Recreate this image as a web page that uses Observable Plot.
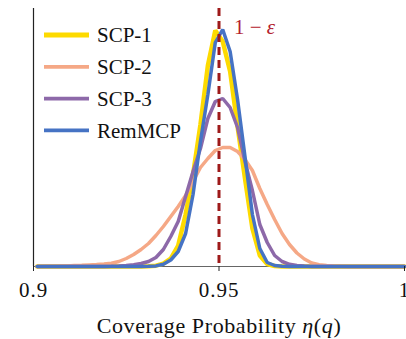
<!DOCTYPE html>
<html><head><meta charset="utf-8">
<script src="https://cdn.jsdelivr.net/npm/d3@7"></script>
<script src="https://cdn.jsdelivr.net/npm/@observablehq/plot@0.6"></script>
<style>
body{margin:0;background:#fff;}
svg text, svg tspan { font-family: "Liberation Serif" !important; }
</style></head><body><div id="chart"></div>
<script>
// Coverage probability grid
const coverage = [0.901,0.903,0.905,0.907,0.909,0.911,0.913,0.915,0.917,0.919,
  0.921,0.923,0.925,0.927,0.929,0.931,0.933,0.935,0.937,0.939,
  0.941,0.943,0.945,0.947,0.949,0.951,0.953,0.955,0.957,0.959,
  0.961,0.963,0.965,0.967,0.969,0.971,0.973,0.975,0.977,0.979,
  0.981,0.983,0.985,0.987,0.989,0.991,0.993,0.995,0.997,0.999,1.000];

const seriesNames = ["SCP-1","SCP-2","SCP-3","RemMCP"];
const seriesColors = ["#FDDA00","#F5A886","#8D69A9","#4673C4"];

// density (arbitrary units)
const scp1 = [0,0,0,0,0,0,0,0,0,0,
  0,0,0,0,0,0.3,0.8,2.8,8,21,
  52,92,142,201,236,225,195,140,88,38,
  11,2.5,0.5,0.1,0,0,0,0,0,0,
  0,0,0,0,0,0,0,0,0,0,0];
const scp2 = [0.1,0.2,0.3,0.4,0.6,0.9,1.2,1.6,2.0,2.6,
  3.3,5,8,12,17,23,31,40,50,60,
  71,85,99,108,116,119,119,115,107,96,
  78,62,47,33,22,13.5,7.5,3.5,1.8,0.9,
  0.4,0.2,0,0,0,0,0,0,0,0,0];
const scp3 = [0,0,0,0,0,0,0,0,0,0,
  0.2,0.5,1,1.8,3,5,9,17,30,45,
  70,95,118,148,165,168,159,139,105,76,
  42,24,11,5,2.2,1,0.4,0.1,0,0,
  0,0,0,0,0,0,0,0,0,0,0];
const remmcp = [0,0,0,0,0,0,0,0,0,0,
  0,0,0,0,0,0.2,0.6,2.3,6.5,15,
  33,72,125,172,224,237,215,167,110,52,
  18,4,1,0.2,0,0,0,0,0,0,
  0,0,0,0,0,0,0,0,0,0,0];

const xTicks = [0.9, 0.95, 1];
const xTickLabels = ["0.9", "0.95", "1"];
const target = 0.95;
const targetLabel = "1 − ε";
const xLabel = "Coverage Probability η(q)";

const allSeries = [scp1, scp2, scp3, remmcp];
const lineWidths = [4.5, 3.5, 3.5, 3.5];
const rows = [];
allSeries.forEach((vals, k) => vals.forEach((v, i) => rows.push({series: seriesNames[k], x: coverage[i], y: v})));

const serif = "Liberation Serif";

const lineMarks = seriesNames.map((name, k) =>
  Plot.line(rows.filter(r => r.series === name), {x: "x", y: "y", stroke: seriesColors[k], strokeWidth: lineWidths[k], strokeLinejoin: "miter"})
);

const plot = Plot.plot({
  width: 406, height: 339,
  marginLeft: 33, marginRight: 2, marginTop: 8, marginBottom: 73,
  style: {background: "#fff", color: "#111"},
  x: {domain: [0.9, 1]},
  y: {domain: [0, 258], axis: null},
  marks: [
    Plot.ruleY([0], {stroke: "#666", strokeWidth: 1.2}),
    ...lineMarks,
    Plot.ruleX([0.9], {stroke: "#222", strokeWidth: 1.2}),
    Plot.ruleX([target], {stroke: "#9E1A1A", strokeWidth: 3, strokeDasharray: "8,5"}),
    Plot.axisX({ticks: xTicks, tickFormat: (d) => xTickLabels[xTicks.indexOf(d)], tickSize: 5, tickPadding: 11, fontSize: 21, label: null, stroke: "#222", fontFamily: serif}),
    Plot.text([targetLabel], {x: [target], frameAnchor: "top", dx: 15, dy: 19, textAnchor: "start", lineAnchor: "middle", fill: "#B3202C", fontSize: 21, fontFamily: serif, text: d => d}),
    Plot.text([xLabel], {frameAnchor: "bottom", dy: 59, lineAnchor: "middle", fontSize: 22, fill: "#111", fontFamily: serif, text: d => d})
  ]
});

document.getElementById("chart").appendChild(plot);

// Italic math symbols
const NS = "http://www.w3.org/2000/svg";
function mathify(t, parts) {
  t.textContent = "";
  parts.forEach(([s, it]) => {
    if (it) { const sp = document.createElementNS(NS, "tspan"); sp.setAttribute("font-style", "italic"); sp.textContent = s; t.appendChild(sp); }
    else t.appendChild(document.createTextNode(s));
  });
}
plot.querySelectorAll("text").forEach(t => {
  if (t.textContent === xLabel) { mathify(t, [["Coverage Probability ", false], ["η", true], ["(", false], ["q", true], [")", false]]); t.setAttribute("letter-spacing", "0.6"); }
  else if (t.textContent === targetLabel) mathify(t, [["1 − ", false], ["ε", true]]);
});
plot.querySelectorAll('g[aria-label="x-axis tick label"] text').forEach(t => t.setAttribute("letter-spacing", "1"));

// Legend inside the plot
const svg = d3.select(plot);
const lg = svg.append("g").attr("font-family", serif).attr("font-size", 21).attr("text-anchor", "start");
seriesNames.forEach((name, i) => {
  const y = 35 + i * 31.8;
  lg.append("line").attr("x1", 44).attr("x2", 89).attr("y1", y).attr("y2", y)
    .attr("stroke", seriesColors[i]).attr("stroke-width", i === 0 ? 5 : 3.8);
  lg.append("text").attr("x", 97).attr("y", y).attr("dy", "0.35em").attr("fill", "#111").attr("text-anchor", "start").text(name);
});
</script></body></html>
